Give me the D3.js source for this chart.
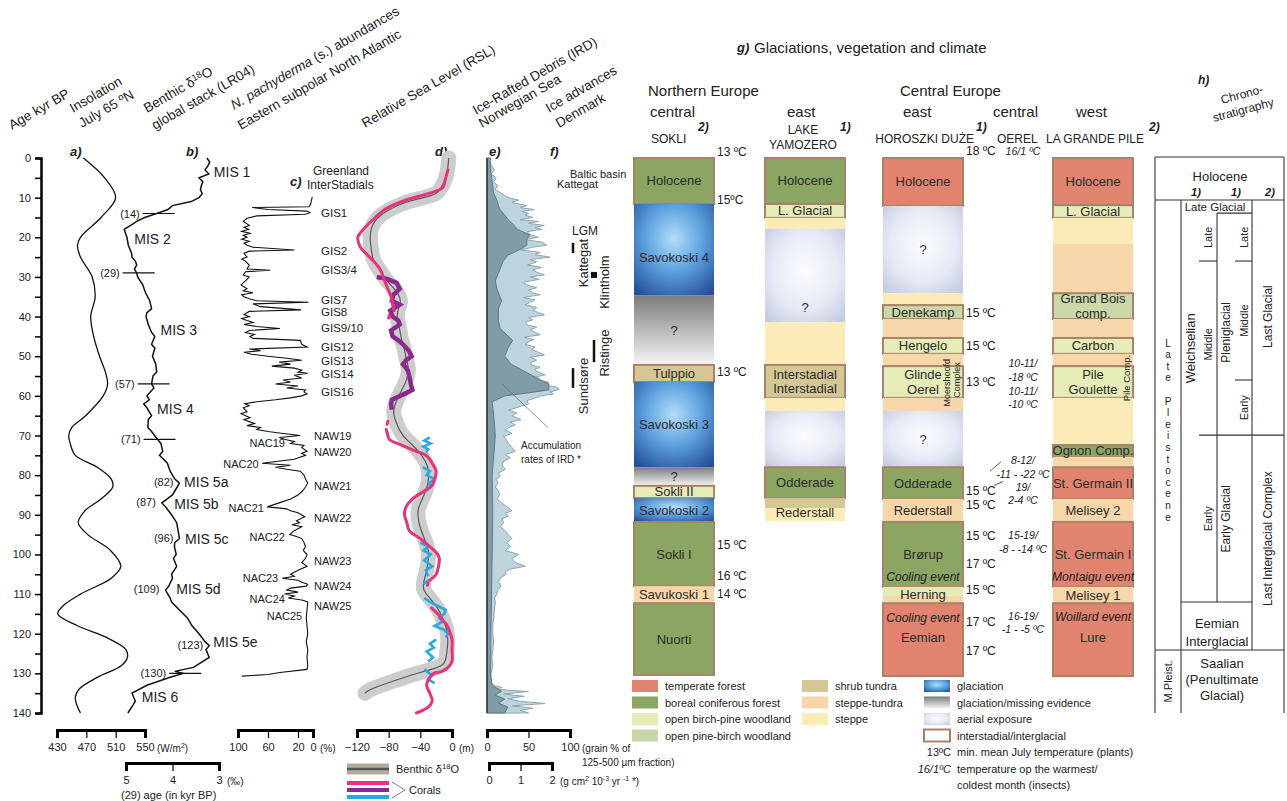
<!DOCTYPE html>
<html lang="en">
<head>
<meta charset="UTF-8">
<title>Last glacial cycle: proxies, glaciations, vegetation</title>
<script src="https://cdn.jsdelivr.net/npm/d3@7"></script>
<style>
  body { margin: 0; background: #fff; }
  svg { display: block; font-family: "Liberation Sans", Arial, sans-serif; fill: #222; }
  .narrow { font-family: "Liberation Sans Narrow", "Arial Narrow", "Liberation Sans", sans-serif; font-stretch: condensed; }
</style>
</head>
<body>
<svg width="1287" height="801"></svg>
<script>
// ---------------- data ----------------
const ageTicks = d3.range(0, 141, 5);

// a) insolation July 65N [age kyr, W/m2]
const insolation = [[0,466],[5,495],[10,510],[15,490],[20,462],[22,458],[25,462],[30,478],[35,482],[40,476],[45,480],
  [50,488],[54,496],[57,499],[60,493],[65,469],[68,450],[70,446],[72,448],[75,455],[78,485],[81,504],[83,506],[86,490],
  [89,468],[92,459],[95,472],[99,503],[103,517],[106,504],[110,462],[113,438],[115,431],[118,458],[121,498],[124,524],
  [126,526],[128,518],[131,485],[134,460],[136,455],[138,457],[140,462]];

// b) benthic d18O LR04 [age, permil]
const benthic = [[0,3.26],[1,3.2],[2,3.24],[3,3.3],[4,3.22],[5,3.43],[6,3.35],[7,3.38],[8,3.4],[9,3.36],[10,3.43],[11,3.6],
  [12,4.0],[13,4.1],[14,4.34],[15,4.6],[16,4.77],[17,4.9],[18,5.04],[20,4.98],[22,4.95],[24,4.88],[25,4.87],[26,4.8],
  [27,4.77],[28,4.82],[29,4.77],[30,4.75],[32,4.64],[34,4.58],[36,4.49],[38,4.45],[39,4.55],[40,4.57],[42,4.52],[44,4.45],
  [45,4.38],[47,4.45],[48,4.38],[50,4.43],[52,4.36],[54,4.34],[55,4.42],[57,4.45],[58,4.4],[60,4.55],[61,4.5],[62,4.62],
  [63,4.55],[65,4.45],[66,4.52],[68,4.53],[69,4.45],[71,4.32],[72,4.25],[74,4.21],[75,4.28],[77,4.11],[79,4.05],[81,3.95],
  [82,3.85],[84,3.95],[85,4.0],[87,4.23],[88,4.15],[90,4.02],[92,3.91],[94,3.88],[96,3.85],[97,3.95],[98,3.96],[100,3.92],
  [101,3.98],[103,3.91],[105,4.02],[106,4.0],[108,4.08],[109,4.15],[111,4.05],[112,4.02],[114,3.85],[116,3.68],[118,3.58],
  [120,3.43],[122,3.3],[123,3.21],[124,3.28],[126,3.21],[128.5,3.55],[129.5,3.95],[130,3.77],[131,4.05],[133,4.55],
  [135,4.87],[137,4.8],[138,4.85],[140,4.96]];
const misLabels = [['MIS 1',3.5],['MIS 2',20.4],['MIS 3',43.4],['MIS 4',63.3],['MIS 5a',81.7],['MIS 5b',87.3],
  ['MIS 5c',96.1],['MIS 5d',108.7],['MIS 5e',122.1],['MIS 6',136]];
const boundaryAges = [14, 29, 57, 71, 130];          // with horizontal marks
const peakAges = [82, 87, 96, 109, 123];              // label only

// c) N. pachyderma (s.) % [age, %]
const pachyderma = [[9.8,1],[11.5,3],[12.3,5],[12.5,81],[13,60],[13.4,8],[13.8,4],[14.2,10],[14.6,75],[15.2,88],[16,93],
  [17,85],[17.5,92],[18,86],[18.5,95],[19,84],[19.5,93],[20,88],[20.5,95],[21,85],[21.5,92],[22,88],[22.5,80],[23.2,25],
  [23.5,85],[24,92],[25,88],[25.5,95],[26,90],[27,85],[28,88],[28.3,57],[28.7,90],[29.5,93],[30,85],[31,90],[32,96],
  [33,88],[33.5,93],[34,80],[34.5,95],[35,92],[35.5,85],[36,75],[36.4,6],[36.8,80],[37.5,70],[38.3,16],[38.7,85],
  [39.5,92],[40,85],[40.5,95],[41,88],[41.5,80],[42,92],[42.5,75],[43,44],[43.5,85],[44,90],[44.5,78],[45,84],[45.5,80],
  [46,17],[47,15],[47.7,8],[48.2,85],[48.6,70],[49,92],[49.5,82],[50,60],[50.5,35],[51,15],[51.5,45],[52,30],[52.5,55],
  [53,25],[53.5,15],[54,20],[54.3,7],[54.8,25],[55.5,15],[56,40],[56.5,30],[57,50],[57.5,20],[58,35],[58.5,10],[59,12],
  [59.5,8],[60,15],[60.5,30],[61,50],[61.5,75],[62,91],[62.5,85],[63,93],[64,88],[64.5,96],[65,90],[65.5,84],[66,92],
  [66.5,85],[67,78],[67.5,88],[68,70],[68.5,75],[69,60],[69.5,40],[70,17],[70.5,45],[71,37],[71.5,25],[72,30],[72.5,12],
  [73,15],[74,8],[74.5,15],[75,10],[76,25],[77,68],[77.5,30],[78,50],[78.5,35],[79,17],[80,12],[81,10],[82,7],[83,10],
  [84,14],[85,20],[86,30],[87,45],[88,61],[88.5,35],[89,30],[89.5,20],[90.5,11],[91.5,22],[92,18],[92.5,28],[93,15],
  [94,25],[95,31],[95.5,22],[96,15],[97,12],[98,10],[99,13],[100,8],[101,10],[102,15],[103,8],[104,20],[105,30],
  [105.5,25],[106,41],[106.5,20],[107,15],[107.5,7],[108,9],[108.5,30],[109,35],[109.5,20],[110,38],[110.5,25],[111,33],
  [111.5,15],[112,7],[114,8],[116,9],[118,8],[120,7],[122,9],[124,7],[126,8],[128,7],[129,8],[129.8,44],[130.3,60],[130.7,95]];
const gisLabels = [['GIS1',13.9],['GIS2',23.4],['GIS3/4',28.3],['GIS7',35.8],['GIS8',38.9],['GIS9/10',42.9],
  ['GIS12',47.7],['GIS13',51.2],['GIS14',54.5],['GIS16',59]];
const nawLabels = [['NAW19',70.1],['NAW20',74.1],['NAW21',82.7],['NAW22',90.8],['NAW23',101.6],['NAW24',108],
  ['NAW25',113]];
// [label, age, % at the cold spike]
const nacLabels = [['NAC19',71.9,32],['NAC20',77.2,67],['NAC21',88.3,60],['NAC22',95.6,32],['NAC23',106,41],
  ['NAC24',111.3,32],['NAC25',115.6,9]];

// d) relative sea level [age, m]
const rslBenthic = [[0,-4],[2,-5],[5,-7],[8,-15],[9,-19],[10,-35],[11,-58],[13,-80],[15,-95],[18,-104],[22,-103],
  [26,-100],[28,-92],[31,-83],[33,-72],[36,-63],[38,-68],[40,-70],[43,-66],[46,-64],[48,-60],[51,-58],[53,-54],[56,-57],
  [58,-62],[61,-70],[64,-75],[66,-72],[69,-66],[71,-58],[74,-41],[77,-32],[79,-29],[82,-30],[84,-33],[87,-40],[89,-44],
  [92,-42],[94,-39],[97,-33],[99,-29],[102,-30],[105,-33],[107,-36],[109,-37],[111,-28],[114,-16],[117,-10],[119,-6],
  [122,-5],[124,-6],[127,-8],[128,-12],[129,-25],[130,-45],[132,-75],[134,-104],[135,-110]];
const rslPink = [
  [[3,-5],[5,-8],[7.5,-12],[9,-30],[10.6,-58],[13,-85],[15.6,-100],[18,-112],[20,-119],[22,-117],[23,-114],[25,-104],
   [28,-91],[31,-85],[33,-81],[35,-77],[37,-75],[38.5,-73]],
  [[39.6,-79],[40.4,-80]],
  [[66.4,-81],[67.2,-82]],
  [[68.5,-83],[70,-81],[71,-79],[72.5,-63],[74,-45],[75,-33],[77,-25],[79,-20],[81,-22],[82.5,-25],[84,-35],[86,-50],
   [88,-58],[90,-60],[92,-57],[94,-54],[96,-40],[98,-28],[100,-18],[101,-16],[103,-17],[105,-20],[106.5,-28]],
  [[107.2,-30],[107.8,-31]],
  [[113.5,-26],[115,-18],[116.5,-12],[118,-6],[120,-2],[121.6,0],[124,0],[127,0],[128.5,-5],[129.5,-13],[130,-23],
   [131,-28],[133,-32],[135,-28],[137,-25],[138.5,-30],[140,-45]]];
const rslPurple = [[30,-95],[30.5,-82],[31.5,-70],[33,-66],[34.5,-74],[36,-76],[37,-66],[38.5,-78],[40,-75],[41,-68],
  [42,-66],[43.5,-77],[45,-75],[46,-68],[47,-62],[48.5,-55],[50,-51],[51,-58],[52,-62],[53.5,-56],[55,-54],[57,-52],
  [58.5,-50],[59.5,-60],[61,-76],[62,-77],[63.5,-76]];
const rslBlue = [
  [[70.5,-28],[71.3,-35],[72,-27],[72.8,-36],[73.5,-30],[74.2,-33]],
  [[78,-37],[79,-28],[80,-32],[81,-22],[82,-29],[83,-27],[84,-33]],
  [[97,-40],[98,-30],[99,-36],[100,-27],[101.5,-35],[103,-25],[104,-33],[105.5,-30]],
  [[106.5,-30],[107.5,-36]],
  [[111,-35],[112,-28],[113,-18],[114,-8],[115,-10],[116,-16],[117,-12],[118,-22],[119,-10],[120,-5],[121,-8]],
  [[121.5,-20],[122.5,-28],[123.5,-23],[124.5,-32],[126,-24],[127,-30]],
  [[129,-35],[130.5,-25],[131.5,-30],[132.5,-22]]];

// e) IRD grain % and accumulation rate
const ird = [[0,0],[1,2],[2,6],[3,9],[4,5],[5,11],[6,8],[7,13],[8,10],[9,18],[10,26],[10.6,38],[11.2,30],[12,48],[12.5,40],
  [13,57],[13.5,42],[14,50],[14.4,46],[15,55],[15.6,40],[16,62],[16.5,50],[17,69],[17.5,58],[18,66],[18.6,48],[19.4,53],
  [20,62],[20.6,45],[21.2,66],[22,72],[22.5,55],[23.2,41],[23.8,64],[24.4,58],[25,76],[25.6,52],[26.2,60],[27,49],
  [27.6,66],[28.2,55],[28.8,60],[29.5,69],[30,52],[30.6,63],[31.3,45],[32,47],[32.7,60],[33.3,50],[34,55],[34.5,64],
  [35.2,44],[35.8,58],[36.4,52],[37,46],[37.7,60],[38.3,55],[39,62],[39.6,69],[40.2,50],[40.8,55],[41.4,47],[42,47],
  [42.7,60],[43.3,52],[44,58],[44.6,64],[45.2,45],[45.8,56],[46.4,50],[47,46],[47.7,58],[48.3,54],[49,62],[49.7,69],
  [50.3,52],[51,60],[51.6,53],[52.2,53],[52.8,64],[53.4,57],[54,62],[54.7,70],[55.3,58],[56,61],[56.6,75],[57.2,68],
  [57.8,84],[58.4,87],[59,76],[59.5,80],[60,65],[60.6,57],[61.2,48],[62,50],[62.7,40],[63.6,26],[64.3,36],[65,30],
  [66,41],[66.6,28],[67.3,34],[68,26],[68.6,22],[69.5,30],[70.2,20],[71,23],[72,26],[73,30],[74,34],[74.8,22],[75.6,28],
  [76.5,20],[77.5,18],[78.5,22],[79.5,14],[80.3,16],[81,11],[82,13],[83,10],[84,14],[85,15],[86,12],[87,18],[88,24],
  [89,30],[89.6,22],[90.3,26],[91,18],[92,20],[93,16],[94,22],[95,26],[96,30],[97,24],[98,28],[99,22],[100,38],[101,30],
  [102,34],[103,46],[103.6,30],[104.3,22],[105,23],[106,16],[107,14],[108,17],[109,13],[110,12],[111,9],[112,10],
  [114,9],[116,8],[118,7],[120,7],[122,8],[124,7],[126,6],[128,7],[130,5],[132,4],[133,8],[133.6,18],[134,10],[134.6,50],
  [135.2,20],[135.8,45],[136.4,25],[137,38],[137.6,70],[138.2,30],[138.8,55],[139.3,40],[140,50]];
const irdAccum = [[0,0.05],[3,0.05],[6,0.1],[9,0.15],[10.6,0.25],[12,0.3],[13,0.35],[14.4,0.5],[15.5,0.6],[17,0.8],
  [18,0.9],[19.4,1.3],[20.5,1.2],[22,1.2],[23,1.0],[24.5,0.6],[26,0.45],[27,0.4],[29,0.3],[31,0.2],[33,0.25],[36,0.4],
  [38,0.3],[41,0.3],[43,0.35],[46,0.75],[48,0.6],[50,0.5],[52,0.7],[53.5,1.05],[55,1.4],[57,1.9],[58.5,1.9],[59.3,1.2],
  [60,0.5],[61.5,0.1],[65,0.15],[70,0.2],[80,0.1],[90,0.12],[100,0.1],[110,0.08],[120,0.06],[130,0.05],[133,0.1],
  [134.5,0.4],[135.5,0.2],[136.5,0.5],[137.5,0.3],[138.5,0.6],[140,0.5]];

// f) ice advances Denmark [name, from age, to age, label centre age, lane]
const iceAdvances = [['Kattegat',21.4,24,26.5,'near'],['Klintholm',28.8,30.2,31.3,'far'],['Ristinge',45.9,51.5,49.2,'far'],
  ['Sundsøre',53,58,57.5,'near']];

// g) glaciations and vegetation: [from age, to age, type, label, interstadial border, label age]
const sokli = [[0,11.6,'boreal','Holocene',1],[11.6,34.6,'glaciation','Savokoski 4',0,25],[34.6,52.2,'missing','?',0],
  [52.2,56.5,'shrub','Tulppio',1],[56.5,78,'glaciation','Savokoski 3',0],[78,82.7,'missing','?',0],
  [82.7,85.8,'birchPine','Sokli II',1],[85.8,91.8,'glaciation','Savokoski 2',0],[91.8,108,'boreal','Sokli I',1],
  [108,112.3,'steppeTundra','Savukoski 1',0],[112.3,130.4,'boreal','Nuorti',1]];
const yamozero = [[0,11.6,'boreal','Holocene',1],[11.6,15.1,'birchPine','L. Glacial',1],[15.1,17.9,'steppe','',0],
  [17.9,41.4,'aerial','?',0,37.6],[41.4,52.2,'steppe','',0],[52.2,60.5,'shrub','Interstadial\nInterstadial',1],
  [60.5,63.8,'steppe','',0],[63.8,78,'aerial','',0],[78,85.8,'boreal','Odderade',1],
  [85.8,88.3,'shrub','Rederstall',0,89.3],[88.3,91.6,'steppe','',0]];
const horoszki = [[0,12.1,'temperate','Holocene',1],[12.1,34.1,'aerial','?',0],[34.1,37.1,'steppe','',0],
  [37.1,40.6,'pineBirch','Denekamp',1],[40.6,45.4,'steppeTundra','',0],[45.4,49.4,'birchPine','Hengelo',1],
  [49.4,52.5,'steppeTundra','',0],[52.5,60.5,'birchPine','Glinde\nOerel',1],[60.5,63.8,'steppeTundra','',0],
  [63.8,78,'aerial','?',0],[78,86,'boreal','Odderade',1],[86,91.8,'steppeTundra','Rederstall',0],
  [91.8,108.2,'boreal','Brørup',1],[108.2,110.5,'birchPine','Herning',0,110.2],[110.5,112.3,'steppeTundra','',0],
  [112.3,130.7,'temperate','Eemian',1,121]];
const grandePile = [[0,11.9,'temperate','Holocene',1],[11.9,15.1,'birchPine','L. Glacial',1],[15.1,21.7,'steppe','',0],
  [21.7,34.1,'steppeTundra','',0],[34.1,40.6,'pineBirch','Grand Bois\ncomp.',1],[40.6,45.4,'steppeTundra','',0],
  [45.4,49.4,'birchPine','Carbon',1],[49.4,52.5,'steppeTundra','',0],[52.5,60.5,'birchPine','Pile\nGoulette',1],
  [60.5,72.4,'steppe','',0],[72.4,75.4,'boreal','Ognon Comp.',1],[75.4,78,'steppeTundra','',0],
  [78,86,'temperate','St. Germain II',1],[86,91.8,'steppeTundra','Melisey 2',0],[91.8,108.2,'temperate','St. Germain I',1],
  [108.2,112.3,'steppeTundra','Melisey 1',0],[112.3,130.7,'temperate','Lure',1,121]];
const events = [['horoszki','Cooling event',105.7],['horoszki','Cooling event',116],['pile','Montaigu event',105.7],
  ['pile','Woillard event',115.8]];
const sokliTemps = [['13 ºC',-1.5],['15ºC',10.6],['13 ºC',54],['15 ºC',97.6],['16 ºC',105.4],['14 ºC',110]];
const horoszkiTemps = [['18 ºC',-1.8],['15 ºC',39.1],['15 ºC',47.4],['13 ºC',56.5],['15 ºC',83.9],['15 ºC',87.6],
  ['15 ºC',95.4],['17 ºC',102.4],['15 ºC',109],['17 ºC',117],['17 ºC',124.4]];
const oerelTemps = [['16/1 ºC',-1.8],['10-11/',51.8],['-18 ºC',55.2],['10-11/',58.7],['-10 ºC',62.1],['8-12/',76.2],
  ['-11 - -22 ºC',79.8],['19/',82.9],['2-4 ºC',86.2],['15-19/',95.1],['-8 - -14 ºC',98.6],['16-19/',115.5],
  ['-1 - -5 ºC',118.7]];

const vegLegend = [['temperate forest','temperate'],['boreal coniferous forest','boreal'],
  ['open birch-pine woodland','birchPine'],['open pine-birch woodland','pineBirch']];
const openLegend = [['shrub tundra','shrub'],['steppe-tundra','steppeTundra'],['steppe','steppe']];
const iceLegend = [['glaciation','glaciation'],['glaciation/missing evidence','missing'],['aerial exposure','aerial'],
  ['interstadial/interglacial','border']];

// h) chronostratigraphy boundaries (kyr)
const chronoAges = { holocene: 10.6, lateGlacial: 13.9, lateMid: 26, pleniEarly: 56, glacialEnd: 69.9, eemian: 112, saalian: 124.1 };

// ---------------- drawing ----------------
const svg = d3.select('svg');
const defs = svg.append('defs');
function radial(id, stops, cy) {
  const g = defs.append('radialGradient').attr('id', id).attr('cx', '50%').attr('cy', cy).attr('r', '75%');
  stops.forEach(s => g.append('stop').attr('offset', s[0]).attr('stop-color', s[1]));
}
radial('glac', [[0, '#b5ddf7'], [0.45, '#62a6e1'], [1, '#234d99']], '38%');
radial('aer', [[0, '#fbfcfe'], [0.55, '#e6eaf5'], [1, '#bec6de']], '45%');
const lg = defs.append('linearGradient').attr('id', 'miss').attr('x1', 0).attr('y1', 0).attr('x2', 0).attr('y2', 1);
lg.append('stop').attr('offset', 0).attr('stop-color', '#7c7c7c');
lg.append('stop').attr('offset', 1).attr('stop-color', '#f6f6f6');

const fills = { temperate: '#e0836f', boreal: '#8ba662', birchPine: '#e5ecb7', pineBirch: '#cad8a9', shrub: '#d5c795',
  steppeTundra: '#f7d6a9', steppe: '#fbebb7', glaciation: 'url(#glac)', missing: 'url(#miss)', aerial: 'url(#aer)', border: '#fff' };
const borderColor = '#a98369';

const y = d3.scaleLinear().domain([0, 140]).range([158, 713]);
const xIns = d3.scaleLinear().domain([430, 550]).range([57, 145]);
const xD18 = d3.scaleLinear().domain([5, 3]).range([126, 219]);
const xNp = d3.scaleLinear().domain([100, 0]).range([238, 313]);
const xRsl = d3.scaleLinear().domain([-120, 0]).range([357, 452]);
const xIrd = d3.scaleLinear().domain([0, 100]).range([487, 570]);
const xAcc = d3.scaleLinear().domain([0, 2]).range([489, 552]);

function interp(series, a) {
  const i = d3.bisector(d => d[0]).left(series, a);
  if (i <= 0) return series[0][1];
  if (i >= series.length) return series[series.length - 1][1];
  const p = series[i - 1], q = series[i];
  return p[1] + (q[1] - p[1]) * (a - p[0]) / (q[0] - p[0]);
}
function text(x, yy, s, o = {}) {
  const t = svg.append('text').attr('x', x).attr('y', yy).text(s)
    .attr('font-size', o.size || 12).attr('text-anchor', o.anchor || 'start').attr('fill', o.fill || '#222');
  if (o.italic) t.attr('font-style', 'italic');
  if (o.bold) t.attr('font-weight', 'bold');
  if (o.narrow) t.attr('class', 'narrow');
  if (o.mid) t.attr('dominant-baseline', 'central');
  if (o.rotate !== undefined) t.attr('transform', `rotate(${o.rotate},${x},${yy})`);
  return t;
}
function sup(t, s, tail) {
  t.append('tspan').attr('font-size', '0.7em').attr('dy', -4).text(s);
  t.append('tspan').attr('dy', 4).text(tail);
  return t;
}
const line = xs => d3.line().x(d => xs(d[1])).y(d => y(d[0]));

// rotated column headers
[['Age kyr BP', 12, 130], ['Insolation', 73, 113], ['July 65 ºN', 82, 128], ['global stack (LR04)', 155, 130],
 ['Eastern subpolar North Atlantic', 241, 130], ['Relative Sea Level (RSL)', 365, 128],
 ['Ice-Rafted Debris (IRD)', 476, 115], ['Norwegian Sea', 482, 128], ['Ice advances', 549, 113], ['Denmark', 559, 128]]
  .forEach(h => text(h[1], h[2], h[0], { size: 13.5, rotate: -30 }));
sup(text(147, 113, 'Benthic δ', { size: 13.5, rotate: -30 }), '18', 'O');
const np = text(234, 110, '', { size: 13.5, rotate: -30 });
np.append('tspan').attr('font-style', 'italic').text('N. pachyderma');
np.append('tspan').text(' (s.) abundances');

// panel letters
[['a)', 70], ['b)', 186], ['d)', 435], ['e)', 489], ['f)', 550]].forEach(p => text(p[1], 156, p[0], { size: 13, italic: true, bold: true }));
text(290, 186, 'c)', { size: 13, italic: true, bold: true });

// age axis
const ageAxis = svg.append('g').attr('transform', 'translate(41,0)')
  .call(d3.axisLeft(y).tickValues(ageTicks).tickSize(6).tickPadding(4).tickFormat(d => d % 10 === 0 ? d : ''));
ageAxis.select('.domain').attr('stroke-width', 2.5);
ageAxis.selectAll('.tick line').attr('stroke-width', 1.5);
ageAxis.selectAll('text').attr('font-size', 11).attr('class', 'narrow').attr('fill', '#222');

function bottomAxis(scale, ticks, yy) {
  const g = svg.append('g').attr('transform', `translate(0,${yy})`)
    .call(d3.axisBottom(scale).tickValues(ticks).tickFormat(d3.format('d')).tickSize(8).tickSizeOuter(8).tickPadding(5));
  g.select('.domain').attr('stroke-width', 3);
  g.selectAll('.tick line').attr('stroke-width', 1.2);
  g.selectAll('text').attr('font-size', 11).attr('class', 'narrow').attr('fill', '#222');
  return g;
}
bottomAxis(xIns, [430, 470, 510, 550], 730);
sup(text(157, 752, '(W/m', { size: 10, narrow: true }), '2', ')');
bottomAxis(xD18, [5, 4, 3], 763);
text(227, 785, '(‰)', { size: 10, narrow: true });
text(121, 799, '(29)  age (in kyr BP)', { size: 11, narrow: true });
bottomAxis(xNp, [100, 60, 20, 0], 730);
text(320, 752, '(%)', { size: 10, narrow: true });
bottomAxis(xRsl, [-120, -80, -40, 0], 730);
text(459, 752, '(m)', { size: 10, narrow: true });
bottomAxis(xIrd, [0, 50, 100], 730);
text(582, 752, '(grain % of', { size: 10, narrow: true });
text(582, 766, '125-500 µm fraction)', { size: 10, narrow: true });
bottomAxis(xAcc, [0, 1, 2], 763);
const acc = text(560, 785, '(g cm', { size: 10, narrow: true });
sup(acc, '2', ' 10');
sup(acc, '-3', ' yr ');
sup(acc, '-1', ' *)');

// a) insolation
svg.append('path').datum(insolation).attr('d', line(xIns).curve(d3.curveCatmullRom))
  .attr('fill', 'none').attr('stroke', '#111').attr('stroke-width', 1.3);

// b) benthic
svg.append('path').datum(benthic).attr('d', line(xD18)).attr('fill', 'none').attr('stroke', '#111').attr('stroke-width', 1.5);
const bx = a => xD18(interp(benthic, a));
misLabels.forEach(m => {
  const cx = Math.max(bx(m[1] - 1.5), bx(m[1]), bx(m[1] + 1.5));
  text(cx + 6, y(m[1]), m[0], { size: 14, mid: true });
});
boundaryAges.forEach(a => {
  const cx = bx(a);
  svg.append('line').attr('x1', cx - 14).attr('x2', cx + 18).attr('y1', y(a)).attr('y2', y(a)).attr('stroke', '#111').attr('stroke-width', 1.2);
  text(cx - 17, y(a), `(${a})`, { size: 11, anchor: 'end', mid: true });
});
peakAges.forEach(a => text(bx(a) - 6, y(a) - 1, `(${a})`, { size: 11, anchor: 'end', mid: true }));

// c) N. pachyderma
svg.append('path').datum(pachyderma).attr('d', line(xNp)).attr('fill', 'none').attr('stroke', '#111').attr('stroke-width', 1.1);
text(313, 175, 'Greenland', { size: 12 });
text(307, 189, 'InterStadials', { size: 12 });
gisLabels.forEach(g => text(xNp(0) + 8, y(g[1]), g[0], { size: 11.5, mid: true }));
nawLabels.forEach(g => text(xNp(0) + 1, y(g[1]), g[0], { size: 11, mid: true }));
nacLabels.forEach(g => text(xNp(g[2]) - 4, y(g[1]), g[0], { size: 11, anchor: 'end', mid: true }));

// d) RSL
svg.append('path').datum(rslBenthic).attr('d', line(xRsl).curve(d3.curveBasis)).attr('fill', 'none')
  .attr('stroke', '#cdcdcd').attr('stroke-width', 15).attr('stroke-linecap', 'round').attr('stroke-linejoin', 'round');
svg.append('path').datum(rslBenthic).attr('d', line(xRsl).curve(d3.curveBasis)).attr('fill', 'none')
  .attr('stroke', '#5a5a5a').attr('stroke-width', 1.2);
svg.append('path').datum(rslPurple).attr('d', line(xRsl)).attr('fill', 'none').attr('stroke', '#8a2a8c').attr('stroke-width', 4.5);
rslBlue.forEach(s => svg.append('path').datum(s).attr('d', line(xRsl)).attr('fill', 'none').attr('stroke', '#2aa8e0').attr('stroke-width', 2.6));
rslPink.forEach(s => svg.append('path').datum(s).attr('d', line(xRsl).curve(d3.curveCatmullRom)).attr('fill', 'none')
  .attr('stroke', '#e8327c').attr('stroke-width', 3).attr('stroke-linecap', 'round'));
// d legend
const lgx = [347, 389];
svg.append('line').attr('x1', lgx[0]).attr('x2', lgx[1]).attr('y1', 769).attr('y2', 769).attr('stroke', '#b3ab9a').attr('stroke-width', 11);
svg.append('line').attr('x1', lgx[0]).attr('x2', lgx[1]).attr('y1', 769).attr('y2', 769).attr('stroke', '#555').attr('stroke-width', 2.5);
sup(text(396, 773, 'Benthic δ', { size: 11, narrow: true }), '18', 'O');
[['#e8327c', 783], ['#8a2a8c', 790], ['#2aa8e0', 797]].forEach(c =>
  svg.append('line').attr('x1', lgx[0]).attr('x2', lgx[1]).attr('y1', c[1]).attr('y2', c[1]).attr('stroke', c[0]).attr('stroke-width', 4));
svg.append('path').attr('d', 'M392,782L405,790L392,798').attr('fill', 'none').attr('stroke', '#666').attr('stroke-width', 0.8);
text(409, 794, 'Corals', { size: 11, narrow: true });

// e) IRD
svg.append('path').datum(ird).attr('d', d3.area().x0(xIrd(0)).x1(d => xIrd(d[1])).y(d => y(d[0])))
  .attr('fill', '#bdd3de').attr('stroke', '#8ea6b1').attr('stroke-width', 1);
svg.append('path').datum(irdAccum).attr('d', d3.area().x0(xIrd(0)).x1(d => xAcc(d[1])).y(d => y(d[0])))
  .attr('fill', '#7f9ca7').attr('stroke', '#5f7b86').attr('stroke-width', 1);
svg.append('line').attr('x1', xIrd(0)).attr('x2', xIrd(0)).attr('y1', y(0)).attr('y2', y(140)).attr('stroke', '#222').attr('stroke-width', 1.3);
svg.append('line').attr('x1', 502).attr('y1', y(57)).attr('x2', 548).attr('y2', y(68)).attr('stroke', '#666').attr('stroke-width', 0.7);
text(551, 449, 'Accumulation', { size: 10, narrow: true, anchor: 'middle' });
text(551, 463, 'rates of IRD *', { size: 10, narrow: true, anchor: 'middle' });

// f) ice advances
text(570, 178, 'Baltic basin', { size: 11 });
text(557, 188, 'Kattegat', { size: 11 });
text(572, 235, 'LGM', { size: 12 });
const lane = d3.scaleOrdinal().domain(['near', 'far']).range([573, 594]);
iceAdvances.forEach(a => {
  const bxp = lane(a[4]);
  if (a[2] - a[1] < 2) {
    svg.append('rect').attr('x', bxp - 3).attr('y', y((a[1] + a[2]) / 2) - 3).attr('width', 6).attr('height', 6).attr('fill', '#111');
  } else {
    svg.append('line').attr('x1', bxp).attr('x2', bxp).attr('y1', y(a[1])).attr('y2', y(a[2])).attr('stroke', '#111').attr('stroke-width', 2.5);
  }
  text(bxp + 11, y(a[3]), a[0], { size: 13, anchor: 'middle', mid: true, rotate: -90 });
});

// g) columns
text(737, 52, 'g)', { size: 13, italic: true, bold: true });
text(754, 53, 'Glaciations, vegetation and climate', { size: 15 });
text(648, 96, 'Northern Europe', { size: 15 });
text(900, 96, 'Central Europe', { size: 15 });
[['central', 650], ['east', 787], ['east', 903], ['central', 993], ['west', 1076]].forEach(c => text(c[1], 117, c[0], { size: 15 }));
text(651, 143, 'SOKLI', { size: 12 });
text(803, 134, 'LAKE', { size: 12, anchor: 'middle' });
text(803, 149, 'YAMOZERO', { size: 12, anchor: 'middle' });
text(974, 143, 'HOROSZKI DUŻE', { size: 12, anchor: 'end' });
text(997, 143, 'OEREL', { size: 12 });
text(1046, 143, 'LA GRANDE PILE', { size: 12 });
[['2)', 698], ['1)', 840], ['1)', 976], ['2)', 1149]].forEach(r => text(r[1], 131, r[0], { size: 12, italic: true, bold: true }));

const siteX = d3.scaleOrdinal().domain(['sokli', 'yamozero', 'horoszki', 'pile']).range([634, 765, 883, 1053]);
const colW = 80;
function column(site, blocks) {
  const x0 = siteX(site);
  blocks.forEach(b => {
    svg.append('rect').attr('x', x0).attr('y', y(b[0])).attr('width', colW).attr('height', y(b[1]) - y(b[0]))
      .attr('fill', fills[b[2]]).attr('stroke', b[4] ? borderColor : 'none').attr('stroke-width', 2);
  });
  blocks.forEach(b => {
    if (!b[3]) return;
    const lines = b[3].split('\n');
    const cy = b[5] !== undefined ? y(b[5]) : (y(b[0]) + y(b[1])) / 2;
    lines.forEach((l, i) => text(x0 + colW / 2, cy + (i - (lines.length - 1) / 2) * 14.5, l, { size: 13, anchor: 'middle', mid: true, fill: '#2b2b2b' }));
  });
}
column('sokli', sokli);
column('yamozero', yamozero);
column('horoszki', horoszki);
column('pile', grandePile);
events.forEach(e => text(siteX(e[0]) + colW / 2, y(e[2]), e[1], { size: 12, anchor: 'middle', mid: true, italic: true }));
text(947, y(56.7), 'Moershoofd', { size: 9, narrow: true, anchor: 'middle', mid: true, rotate: -90 });
text(957, y(56), 'Complex', { size: 9, narrow: true, anchor: 'middle', mid: true, rotate: -90 });
text(1127, y(55.5), 'Pile Comp.', { size: 9.5, narrow: true, anchor: 'middle', mid: true, rotate: -90 });

sokliTemps.forEach(t => text(siteX('sokli') + colW + 3, y(t[1]), t[0], { size: 12, mid: true }));
horoszkiTemps.forEach(t => text(siteX('horoszki') + colW + 3, y(t[1]), t[0], { size: 12, mid: true }));
oerelTemps.forEach(t => text(1023, y(t[1]), t[0], { size: 10.5, mid: true, italic: true, anchor: 'middle' }));
svg.append('line').attr('x1', 990).attr('y1', y(79)).attr('x2', 1001).attr('y2', y(76.6)).attr('stroke', '#333').attr('stroke-width', 0.8);
svg.append('line').attr('x1', 994).attr('y1', y(82.6)).attr('x2', 1003).attr('y2', y(81.6)).attr('stroke', '#333').attr('stroke-width', 0.8);

// legend
const rowY = d3.scaleLinear().domain([0, 1]).range([686, 702.5]);
function legendCol(items, x) {
  items.forEach((it, i) => {
    svg.append('rect').attr('x', x).attr('y', rowY(i) - 6).attr('width', 26).attr('height', 12)
      .attr('fill', fills[it[1]]).attr('stroke', it[1] === 'border' ? borderColor : 'none').attr('stroke-width', 2);
    text(x + 33, rowY(i), it[0], { size: 11, narrow: true, mid: true });
  });
}
legendCol(vegLegend, 632);
legendCol(openLegend, 802);
legendCol(iceLegend, 924);
text(951, rowY(4), '13ºC', { size: 11, narrow: true, mid: true, anchor: 'end' });
text(957, rowY(4), 'min. mean July temperature (plants)', { size: 11, narrow: true, mid: true });
text(951, rowY(5), '16/1ºC', { size: 11, narrow: true, mid: true, anchor: 'end', italic: true });
text(957, rowY(5), 'temperature op the warmest/', { size: 11, narrow: true, mid: true });
text(957, rowY(6), 'coldest month (insects)', { size: 11, narrow: true, mid: true });

// h) chronostratigraphy
text(1198, 84, 'h)', { size: 12, italic: true, bold: true });
text(1222, 104, 'Chrono-', { size: 12, rotate: -15 });
text(1214, 122, 'stratigraphy', { size: 12, rotate: -15 });
const cx = { left: 1155, lp: 1181, wSub: 1199, pleni: 1217, pSub: 1235, lg: 1252, right: 1284 };
const C = chronoAges;
const seg = (x1, y1, x2, y2) => svg.append('line').attr('x1', x1).attr('y1', y1).attr('x2', x2).attr('y2', y2)
  .attr('stroke', '#333').attr('stroke-width', 1.1);
seg(cx.left, y(0) - 1, cx.right, y(0) - 1);
seg(cx.left, y(0) - 1, cx.left, y(140));
seg(cx.right, y(0) - 1, cx.right, y(140));
seg(cx.left, y(C.holocene), cx.right, y(C.holocene));
seg(cx.lp, y(C.holocene), cx.lp, y(140));
seg(cx.lg, y(C.holocene), cx.lg, y(C.saalian));
seg(cx.pleni, y(C.lateGlacial), cx.lg, y(C.lateGlacial));
seg(cx.pleni, y(C.lateGlacial), cx.pleni, y(C.eemian));
seg(cx.wSub, y(C.lateMid), cx.pleni, y(C.lateMid));
seg(cx.pSub, y(C.lateMid), cx.lg, y(C.lateMid));
seg(cx.pSub, y(C.pleniEarly), cx.lg, y(C.pleniEarly));
seg(cx.wSub, y(C.glacialEnd), cx.right, y(C.glacialEnd));
seg(cx.lp, y(C.eemian), cx.lg, y(C.eemian));
seg(cx.left, y(C.saalian), cx.right, y(C.saalian));
text(1220, y(C.holocene / 2) - 3, 'Holocene', { size: 13, anchor: 'middle', mid: true });
[['1)', 1196], ['1)', 1236], ['2)', 1270]].forEach(r => text(r[1], y(C.holocene) - 4, r[0], { size: 11, italic: true, bold: true, anchor: 'middle' }));
text(1215, y((C.holocene + C.lateGlacial) / 2), 'Late Glacial', { size: 11.5, anchor: 'middle', mid: true });
const rot = (x, a, s, size) => text(x, y(a), s, { size: size || 11, narrow: true, anchor: 'middle', mid: true, rotate: -90 });
rot(1208, 20, 'Late');
rot(1208, 47, 'Middle');
rot(1208, 91, 'Early');
rot(1191, 48, 'Weichselian', 13);
rot(1226, 44, 'Pleniglacial', 12);
rot(1244, 20, 'Late');
rot(1244, 41, 'Middle');
rot(1244, 63, 'Early');
rot(1226, 91, 'Early Glacial', 12);
rot(1268, 40, 'Last Glacial', 12);
rot(1268, 96, 'Last Interglacial Complex', 12);
rot(1168, 132, 'M.Pleist.');
'Late Pleistocene'.split('').forEach((ch, i) => text(1168, 343 + i * 11.6, ch, { size: 10, anchor: 'middle', mid: true }));
text(1217, y(117.5), 'Eemian', { size: 13, anchor: 'middle', mid: true });
text(1217, y(122), 'Interglacial', { size: 13, anchor: 'middle', mid: true });
text(1222, y(127.5), 'Saalian', { size: 13, anchor: 'middle', mid: true });
text(1222, y(131.5), '(Penultimate', { size: 13, anchor: 'middle', mid: true });
text(1222, y(135.5), 'Glacial)', { size: 13, anchor: 'middle', mid: true });
</script>
</body>
</html>
